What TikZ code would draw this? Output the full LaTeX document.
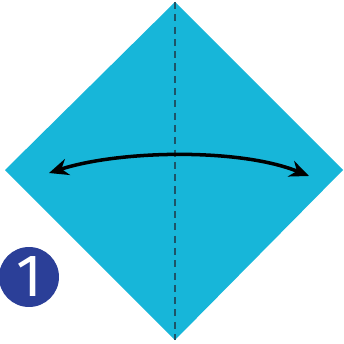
\documentclass[tikz,border=0pt]{standalone}
\usepackage{fontspec}
\setsansfont{Fira Sans}
\usepackage{tikz}
\usetikzlibrary{arrows.meta,positioning}

\definecolor{paper}{HTML}{17B6D9}
\definecolor{crease}{HTML}{1D5468}
\definecolor{stepblue}{HTML}{2B3F98}

\begin{document}
\begin{tikzpicture}[x=0.02cm, y=-0.02cm,
    sheet/.style={fill=paper, draw=none},
    valley/.style={crease, dash pattern=on 4pt off 3pt, line width=0.9pt},
    turn/.style={{Stealth[length=11pt,width=9.5pt]}-{Stealth[length=11pt,width=9.5pt]}, line width=2pt, black},
    badge/.style={circle, fill=stepblue, minimum size=1.2cm, inner sep=0pt,
      font=\sffamily\fontsize{34}{34}\selectfont, text=white}
  ]
    \useasboundingbox (0,0) rectangle (343,344);

    % the square sheet, turned as a diamond
    \coordinate (top) at (175,2);
    \coordinate (lft) at (5,170);
    \coordinate (rgt) at (343,170);
    \coordinate (bot) at (175,340);
    \fill[sheet] (top) -- (rgt) -- (bot) -- (lft) -- cycle;

    % centre crease
    \draw[valley] (top) -- (bot);

    % fold and unfold
    \coordinate (a) at (49,173);
    \coordinate (b) at (309,176);
    \draw[turn] (a) .. controls (120,150) and (240,148) .. (b);

    % step number
    \node[badge] (s1) at (29,277) {1};
\end{tikzpicture}
\end{document}
